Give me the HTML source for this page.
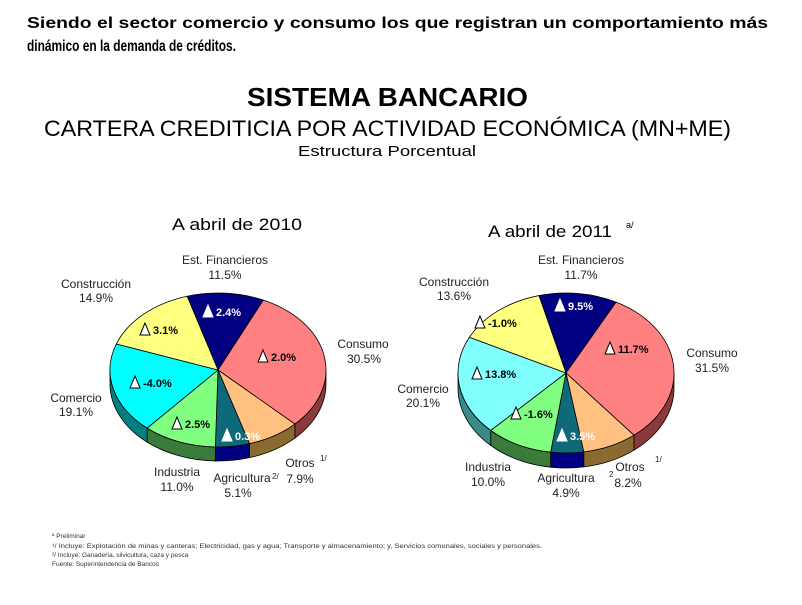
<!DOCTYPE html>
<html><head><meta charset="utf-8"><style>
html,body{margin:0;padding:0;background:#fff;}
svg{display:block;font-family:"Liberation Sans",Arial,sans-serif;}
</style></head><body>
<svg id="s" width="802" height="605" viewBox="0 0 802 605" xmlns="http://www.w3.org/2000/svg">
<rect width="802" height="605" fill="#fff"/>
<g id="pies"></g>
<g font-weight="bold" font-size="16" fill="#000">
<text x="27" y="28" textLength="741" lengthAdjust="spacingAndGlyphs">Siendo el sector comercio y consumo los que registran un comportamiento más</text>
<text x="27" y="51" textLength="209" lengthAdjust="spacingAndGlyphs">dinámico en la demanda de créditos.</text>
<text x="247" y="106" font-size="26" textLength="281" lengthAdjust="spacingAndGlyphs">SISTEMA BANCARIO</text>
</g>
<text x="44" y="136" font-size="22" textLength="687" lengthAdjust="spacingAndGlyphs">CARTERA CREDITICIA POR ACTIVIDAD ECONÓMICA (MN+ME)</text>
<text x="298" y="156" font-size="15" textLength="178" lengthAdjust="spacingAndGlyphs">Estructura Porcentual</text>
<text x="172" y="230" font-size="17" textLength="130" lengthAdjust="spacingAndGlyphs">A abril de 2010</text>
<text x="488" y="237" font-size="17" textLength="124" lengthAdjust="spacingAndGlyphs">A abril de 2011</text>
<text x="626" y="228" font-size="9">a/</text>
<g font-size="12" fill="#222" text-anchor="middle">
<text x="225" y="264">Est. Financieros</text><text x="225" y="279">11.5%</text>
<text x="96" y="288">Construcción</text><text x="96" y="302">14.9%</text>
<text x="363" y="348">Consumo</text><text x="364" y="363">30.5%</text>
<text x="76" y="402">Comercio</text><text x="76" y="416">19.1%</text>
<text x="177" y="476">Industria</text><text x="177" y="491">11.0%</text>
<text x="242" y="482">Agricultura</text><text x="238" y="497">5.1%</text>
<text x="300" y="467">Otros</text><text x="300" y="483">7.9%</text>
<text x="581" y="264">Est. Financieros</text><text x="581" y="279">11.7%</text>
<text x="454" y="286">Construcción</text><text x="454" y="300">13.6%</text>
<text x="712" y="357">Consumo</text><text x="712" y="372">31.5%</text>
<text x="423" y="393">Comercio</text><text x="423" y="407">20.1%</text>
<text x="488" y="471">Industria</text><text x="488" y="486">10.0%</text>
<text x="566" y="482">Agricultura</text><text x="566" y="497">4.9%</text>
<text x="630" y="471">Otros</text><text x="628" y="487">8.2%</text>
</g>
<g font-size="8" fill="#222">
<text x="272" y="479">2/</text><text x="320" y="461">1/</text>
<text x="609" y="477">2</text><text x="655" y="462">1/</text>
</g>
<g id="inner" font-size="11" font-weight="bold"></g>
<g font-size="6.5" fill="#333">
<text x="52" y="538">ª Preliminar</text>
<text x="52" y="548" textLength="490" lengthAdjust="spacingAndGlyphs">¹/ Incluye:  Explotación de minas y canteras; Electricidad, gas y agua; Transporte y almacenamiento; y, Servicios comunales, sociales y personales.</text>
<text x="52" y="557">²/ Incluye:  Ganadería, silvicultura, caza y pesca</text>
<text x="52" y="566">Fuente:  Superintendencia de Bancos</text>
</g>
</svg>
<script>
var NS="http://www.w3.org/2000/svg";
function el(t,a,p){var e=document.createElementNS(NS,t);for(var k in a)e.setAttribute(k,a[k]);p.appendChild(e);return e;}
var G=document.getElementById('pies');
function pie(cx,cy,rx,ry,d,start,sl){
 function pt(a,dy){var r=a*Math.PI/180;return [cx+rx*Math.sin(r),cy-ry*Math.cos(r)+(dy||0)];}
 var a=start,segs=[];
 sl.forEach(function(s){var b=a+s[0]*3.6;segs.push([a,b,s[1],s[2]]);a=b;});
 segs.forEach(function(g){
  var a0=Math.max(g[0],90),a1=Math.min(g[1],270);
  if(a1<=a0)return;
  var p0=pt(a0),p1=pt(a1),q1=pt(a1,d),q0=pt(a0,d);
  var lg=(a1-a0)>180?1:0;
  el('path',{d:'M'+p0+' A'+rx+' '+ry+' 0 '+lg+' 1 '+p1+' L'+q1+' A'+rx+' '+ry+' 0 '+lg+' 0 '+q0+' Z',fill:g[3],stroke:'#000','stroke-width':0.8},G);
 });
 segs.forEach(function(g){
  var p0=pt(g[0]),p1=pt(g[1]);var lg=(g[1]-g[0])>180?1:0;
  el('path',{d:'M'+cx+' '+cy+' L'+p0+' A'+rx+' '+ry+' 0 '+lg+' 1 '+p1+' Z',fill:g[2],stroke:'#000','stroke-width':0.8},G);
 });
}
pie(218,370,108,77,14,-16.6,[[11.5,'#000080','#000050'],[30.5,'#FF8080','#8a3a3a'],[7.9,'#FFC080','#8a6a30'],[5.1,'#0e6a78','#000080'],[11.0,'#80FF80','#3a7a3a'],[19.1,'#00FFFF','#008080'],[14.9,'#FFFF80','#8a8a30']]);
pie(566,373,108,80,15,-14.5,[[11.7,'#000080','#000050'],[31.5,'#FF8080','#8a3a3a'],[8.2,'#FFC080','#8a6a30'],[4.9,'#0e6a78','#000080'],[10.0,'#80FF80','#3a7a3a'],[20.1,'#80FFFF','#3a8a8a'],[13.6,'#FFFF80','#8a8a30']]);
var I=document.getElementById('inner');
[[140,334,'3.1%',0],[203,316,'2.4%',1],[258,361,'2.0%',0],[130,387,'-4.0%',0],[172,428,'2.5%',0],[222,440,'0.3%',1],
 [555,310,'9.5%',1],[605,353,'11.7%',0],[475,327,'-1.0%',0],[472,378,'13.8%',0],[511,418,'-1.6%',0],[557,440,'3.5%',1]].forEach(function(t){
 var x=t[0],y=t[1],w=t[3];
 el('polygon',{points:(x+5)+','+(y-11)+' '+x+','+(y+1)+' '+(x+10)+','+(y+1),fill:'#fff',stroke:w?'#fff':'#000','stroke-width':1},I);
 var tx=el('text',{x:x+13,y:y,fill:w?'#fff':'#000'},I);tx.textContent=t[2];
});
</script>
</body></html>
